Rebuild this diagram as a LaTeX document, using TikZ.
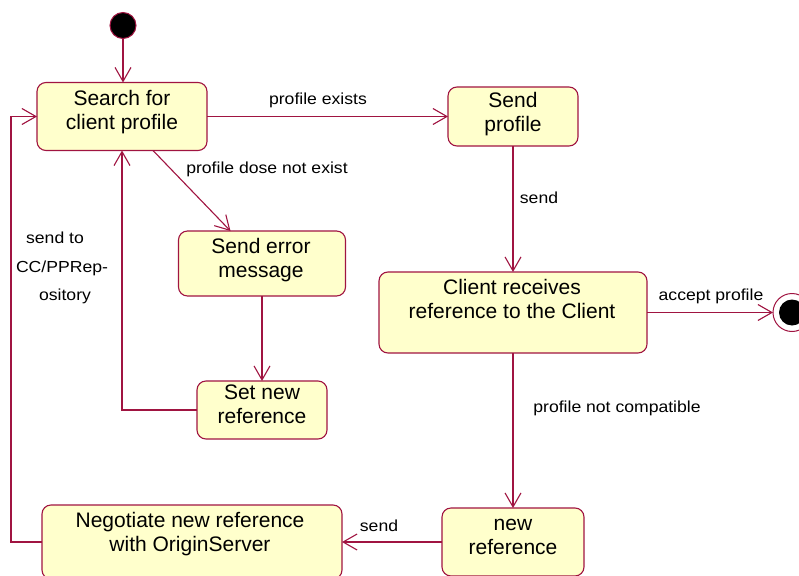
\documentclass[tikz,border=0pt]{standalone}
\usepackage{fontspec}
\setmainfont{Liberation Sans}
\newfontfamily\lblfont[FakeStretch=1.1]{Liberation Sans}
\usetikzlibrary{arrows.meta,calc}
\definecolor{edge}{RGB}{160,20,65}
\definecolor{statefill}{RGB}{255,255,204}
% fixed height for the first line of a state name
\newcommand\capstrut{\rule{0pt}{16pt}}

\begin{document}
\begin{tikzpicture}[x=1pt,y=-1pt,
  state/.style={draw=edge, fill=statefill, line width=1.1pt, rounded corners=9pt,
                inner sep=0pt, outer sep=0pt},
  statetext/.style={font=\fontsize{21}{24}\selectfont, align=center, anchor=north, inner sep=0pt},
  lbl/.style={font=\lblfont\fontsize{16}{19}\selectfont, inner sep=0pt},
  flow/.style={draw=edge, line width=1.1pt, -{Straight Barb[length=14pt,width=16pt]}},
]
\useasboundingbox (0,0) rectangle (799,575);

% initial and final pseudo-states
\node[draw=edge, fill=black, circle, minimum size=26pt, inner sep=0pt, outer sep=0pt, line width=1pt] (start) at (123,25.5) {};
\node[draw=edge, fill=white, circle, minimum size=38pt, inner sep=0pt, outer sep=0pt, line width=1pt] (fin) at (792,312.5) {};
\node[fill=black, circle, minimum size=26pt, inner sep=0pt] (findot) at (fin) {};

% states
\node[state, minimum width=170pt, minimum height=68pt] (search) at (122,116.5) {};
\node[statetext] (searchtxt) at (122,89.5) {\capstrut Search for\\client profile};

\node[state, minimum width=130pt, minimum height=59pt] (sendp) at (513,116.5) {};
\node[statetext] (sendptxt) at (513,91.5) {\capstrut Send\\profile};

\node[state, minimum width=167pt, minimum height=65pt] (senderr) at (262,263.5) {};
\node[statetext] (senderrtxt) at (261,237.5) {\capstrut Send error\\message};

\node[state, minimum width=130pt, minimum height=58pt] (setnew) at (262,410) {};
\node[statetext] (setnewtxt) at (262,383.5) {\capstrut Set new\\reference};

\node[state, minimum width=268pt, minimum height=81pt] (client) at (513,312.5) {};
\node[statetext] (clienttxt) at (512,278.5) {\capstrut Client receives\\reference to the Client};

\node[state, minimum width=142pt, minimum height=68pt] (newref) at (513,542) {};
\node[statetext] (newreftxt) at (513,514.5) {\capstrut new\\reference};

\node[state, minimum width=300pt, minimum height=74pt] (negotiate) at (192,542) {};
\node[statetext] (negotiatetxt) at (190,511.5) {\capstrut Negotiate new reference\\with OriginServer};

% transitions
\draw[flow] (start) -- (start |- search.north);
\draw[flow] (search.east) -- (sendp.west);
\draw[flow] ($(search.south)+(31,0)$) -- ($(senderr.north)+(-31.5,0)$);
\draw[flow] (senderr.south) -- (setnew.north);
\draw[flow] (setnew.west) -| (search.south);
\draw[flow] (sendp.south) -- (client.north);
\draw[flow] (client.east) -- (fin.west);
\draw[flow] (client.south) -- (newref.north);
\draw[flow] (newref.west) -- (negotiate.east);
\coordinate (loopcorner) at (11,542);
\draw[flow] (negotiate.west) -- (loopcorner) |- (search.west);

% transition labels
\node[lbl] (lexists) at (318,100) {profile exists};
\node[lbl] (lnotexist) at (267,169.5) {profile dose not exist};
\node[lbl] (lsend) at (539,198) {send};
\node[lbl] (laccept) at (711,296) {accept profile};
\node[lbl] (lnotcomp) at (617,408) {profile not compatible};
\node[lbl] (lsendneg) at (379,525.5) {send};
\node[lbl, align=center, font=\lblfont\fontsize{16}{28.5}\selectfont] (lrepo) at (62,268)
  {send to\hspace*{14pt}\\CC/PPRep-\\\hspace*{6pt}ository};
\end{tikzpicture}
\end{document}
